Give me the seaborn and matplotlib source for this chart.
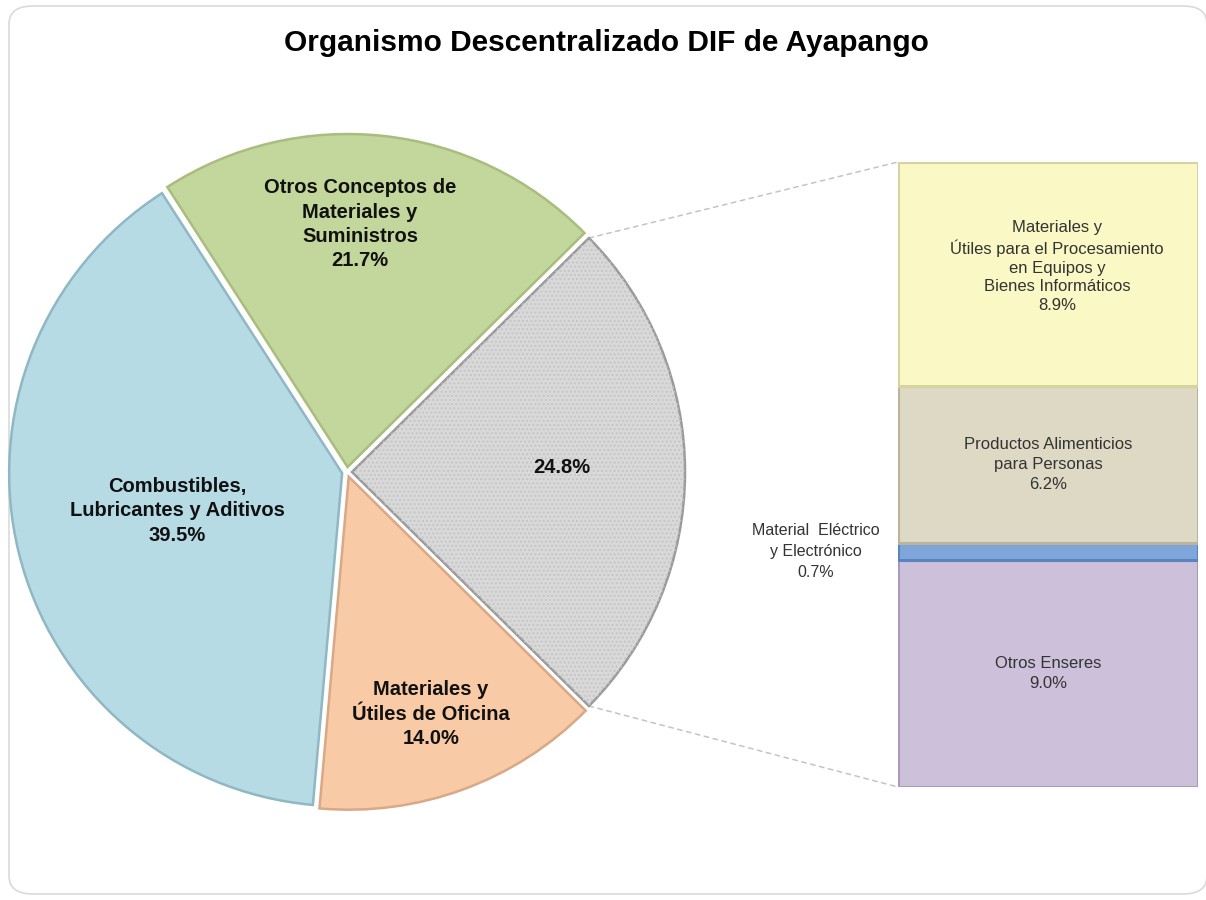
import numpy as np
import matplotlib
matplotlib.use("Agg")
import matplotlib.pyplot as plt
import seaborn as sns
from matplotlib.patches import FancyBboxPatch, ConnectionPatch, Wedge

# ---------------- data ----------------
title = "Organismo Descentralizado DIF de Ayapango"

pie_labels = ["", "Otros Conceptos de\nMateriales y\nSuministros",
              "Combustibles,\nLubricantes y Aditivos",
              "Materiales y\nÚtiles de Oficina"]
pie_values = [24.8, 21.7, 39.5, 14.0]

bar_labels = ["Otros Enseres", "Material  Eléctrico\ny Electrónico",
              "Productos Alimenticios\npara Personas",
              "Materiales y\nÚtiles para el Procesamiento\nen Equipos y\nBienes Informáticos"]
bar_values = [9.0, 0.7, 6.2, 8.9]

# ---------------- style ----------------
sns.set_theme(style="white")
plt.rcParams['font.family'] = ['Liberation Sans', 'DejaVu Sans']

pie_colors = ["#d9d9d9", "#c3d69b", "#b6dbe5", "#f8cba6"]
pie_edges = ["#9a9a9a", "#a9bd7f", "#8fb8c4", "#d8a887"]
bar_colors = ["#ccc0da", "#7ea6da", "#ddd9c4", "#faf8c4"]
bar_edges = ["#a99cba", "#5a84bd", "#b9b49c", "#d6d3a0"]

W, H = 1206, 900
fig = plt.figure(figsize=(W / 100, H / 100), dpi=100)
fig.patch.set_facecolor("white")

# rounded frame
frame = FancyBboxPatch((9 / W, 6 / H), (W - 8) / W, (H - 12) / H,
                       boxstyle="round,pad=0,rounding_size=0.02",
                       transform=fig.transFigure, facecolor="white",
                       edgecolor="#dadada", linewidth=1.2, zorder=-5)
fig.patches.append(frame)

# pie axes in pixel-like coordinates (y up)
ax = fig.add_axes([0, 0, 1, 1])
ax.patch.set_alpha(0)
ax.set_zorder(1)

cx, cy, R = 347, 900 - 472, 333
start = -pie_values[0] / 2 * 3.6
explode = [5, 5, 5, 5]
wedges, _ = ax.pie(pie_values, colors=pie_colors, startangle=start,
                   counterclock=True, radius=R, center=(cx, cy),
                   explode=explode, frame=True,
                   wedgeprops=dict(linewidth=1.8))
for w, ec in zip(wedges, pie_edges):
    w.set_edgecolor(ec)
# dotted texture on the grey slice
gw = wedges[0]
tex = Wedge(gw.center, gw.r, gw.theta1, gw.theta2, facecolor="none",
            edgecolor="#c6c6c6", linewidth=0, hatch="....")
ax.add_patch(tex)
ax.set_xlim(0, W)
ax.set_ylim(0, H)
ax.set_aspect("equal")
ax.axis("off")

# labels
label_frac = [0.646, 0.745, 0.523, 0.77]
label_shift = [1.3, 3.3, -1.0, -1.0]
for w, lab, val, f, sh in zip(wedges, pie_labels, pie_values, label_frac, label_shift):
    mid = np.deg2rad((w.theta1 + w.theta2) / 2 + sh)
    x = cx + f * R * np.cos(mid)
    y = cy + f * R * np.sin(mid)
    txt = (lab + "\n" if lab else "") + f"{val:.1f}%"
    ax.text(x, y, txt, ha="center", va="center", fontsize=14.5,
            fontweight="bold", color="#111111", linespacing=1.36)

# title
fig.text(606 / W, 1 - 43 / H, title, ha="center", va="center",
         fontsize=21.5, fontweight="bold", color="black", zorder=3)

# stacked bar
bx0, bx1, by_top, by_bot = 898, 1198, 162, 787
axb = fig.add_axes([bx0 / W, 1 - by_bot / H, (bx1 - bx0) / W, (by_bot - by_top) / H])
axb.set_zorder(2)
total = sum(bar_values)
bottoms = np.concatenate([[0], np.cumsum(bar_values)[:-1]])
axb.bar([0] * len(bar_values), bar_values, bottom=bottoms, width=1.0,
        color=bar_colors, edgecolor=bar_edges, linewidth=2.2)
axb.set_xlim(-0.5, 0.5)
axb.set_ylim(0, total)
axb.axis("off")
axb.patch.set_alpha(0)

for i, (lab, val, b) in enumerate(zip(bar_labels, bar_values, bottoms)):
    txt = f"{lab}\n{val:.1f}%"
    if val < 2:
        fx = (816 - bx0) / (bx1 - bx0) - 0.5
        axb.text(fx, b + val / 2, txt, ha="center", va="center", fontsize=11.5,
                 color="#333333", linespacing=1.5, clip_on=False)
    else:
        xo = 0.03 if i == 3 else 0.0
        ls = 1.3 if i == 3 else 1.4
        axb.text(xo, b + val / 2 + (0.3 if i == 3 else 0), txt, ha="center", va="center",
                 fontsize=12, color="#333333", linespacing=ls)

# connector lines from the grey slice to the bar
gc = gw.center
for ang, yb in [(gw.theta2, total), (gw.theta1, 0)]:
    px = gc[0] + R * np.cos(np.deg2rad(ang))
    py = gc[1] + R * np.sin(np.deg2rad(ang))
    con = ConnectionPatch(xyA=(px, py), coordsA=ax.transData,
                          xyB=(-0.5, yb), coordsB=axb.transData,
                          linestyle=(0, (3, 3)), color="#c4c4c4", linewidth=1.1)
    fig.add_artist(con)

fig.savefig("out.png", dpi=100, facecolor="white")
